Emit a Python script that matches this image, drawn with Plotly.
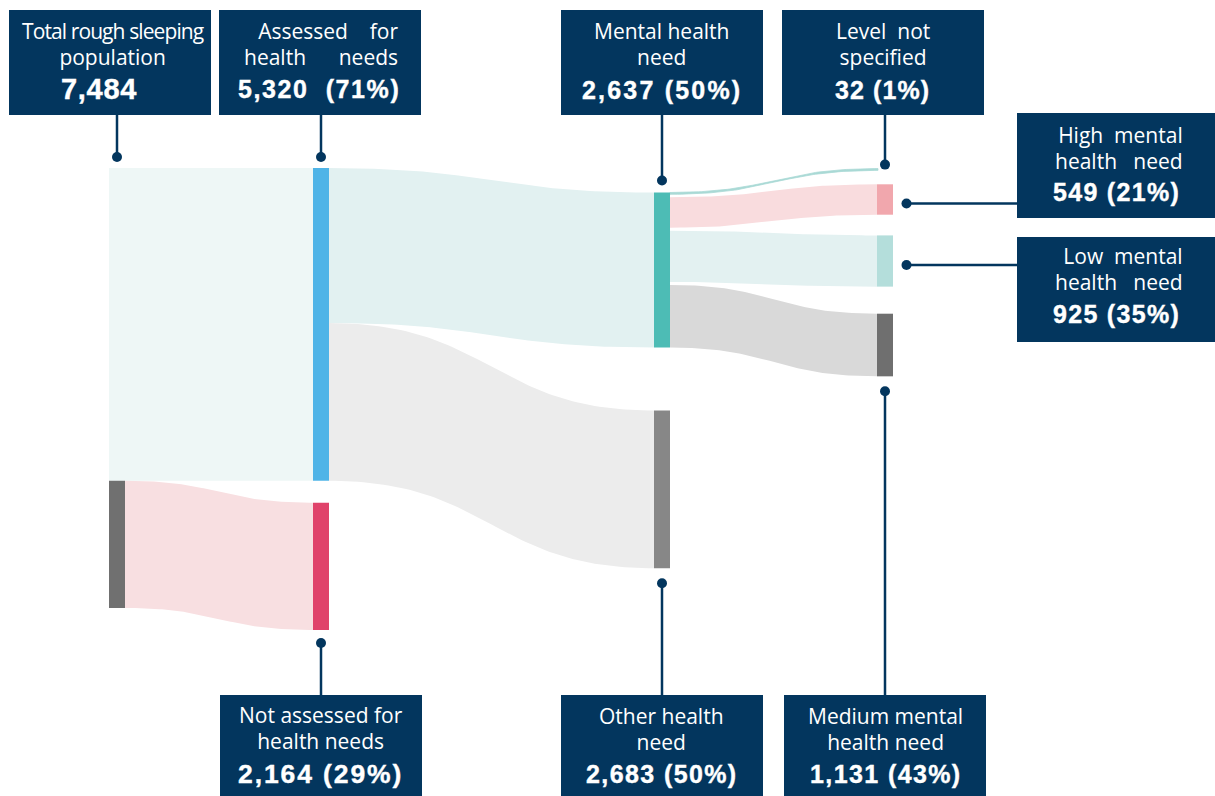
import numpy as np
import plotly.graph_objects as go

# ---------------- data ----------------
total_population = 7484
assessment_labels = ["Assessed for health needs", "Not assessed for health needs"]
assessment_counts = [5320, 2164]
need_labels = ["Mental health need", "Other health need"]
need_counts = [2637, 2683]
level_labels = ["Level not specified", "High mental health need",
                "Low mental health need", "Medium mental health need"]
level_counts = [32, 549, 925, 1131]

# ---------------- canvas and vertical scale ----------------
W, H = 1215, 796
FLOW_TOP = 168          # pixel row where the first column starts
FLOW_PX = 440           # pixel height given to the whole population
K = total_population / FLOW_PX   # people per pixel


def u(py):
    """Pixel row -> y-axis units (people counted from the top of the flow)."""
    return (py - FLOW_TOP) * K


COL_X = [109, 313, 654, 877]
NODE_W = 16

NAVY = "#03365e"
C = dict(
    total_top="#eef7f6", total_bottom="#707070",
    assessed="#4fb4e7", not_assessed="#e0426a",
    mental="#4dbcb5", other="#878787",
    high="#f1a7ad", low="#b4dedb", medium="#6f6f6f",
    l_assessed_mental="#e2f1f1", l_assessed_other="#ececec",
    l_not_assessed="#f8dfe1", l_ns="#a9d9d5", l_high="#f9dcde",
    l_low="#e3f1f1", l_medium="#d9d9d9",
)

fig = go.Figure()


def add_poly(xs, ys, color, lw=0):
    fig.add_trace(go.Scatter(
        x=xs, y=ys, mode="lines", fill="toself", fillcolor=color,
        line=dict(width=lw, color=color), hoverinfo="skip", showlegend=False))


def add_rect(x0, x1, y0, y1, color):
    add_poly([x0, x1, x1, x0, x0], [y0, y0, y1, y1, y0], color)


def add_band(x0, x1, top0, top1, thickness, color, lw=0, n=80):
    t = np.linspace(0, 1, n)
    xm = (x0 + x1) / 2
    bx = (1 - t) ** 3 * x0 + 3 * (1 - t) ** 2 * t * xm + 3 * (1 - t) * t ** 2 * xm + t ** 3 * x1
    by = (1 - t) ** 3 * top0 + 3 * (1 - t) ** 2 * t * top0 + 3 * (1 - t) * t ** 2 * top1 + t ** 3 * top1
    xs = np.concatenate([bx, bx[::-1], bx[:1]])
    ys = np.concatenate([by, (by + thickness)[::-1], by[:1]])
    add_poly(xs, ys, color, lw)


# ---------------- node placement ----------------
assessed, not_assessed = assessment_counts
mental, other = need_counts

col0 = [(0, assessed), (assessed, total_population)]
col1 = [(0, assessed), (assessed + 22 * K, assessed + 22 * K + not_assessed)]
mental_top = 24.5 * K
other_top = mental_top + mental + 63 * K
col2 = [(mental_top, mental_top + mental), (other_top, other_top + other)]

# links leaving the mental-health node are separated by a small gap
LINK_GAP = 3 * K
level_scale = (mental - LINK_GAP * (len(level_counts) - 1)) / mental
level_w = [c * level_scale for c in level_counts]
level_tops = [u(168.6), u(184.3), u(235.4), u(313.7)]
col3 = [(t, t + w) for t, w in zip(level_tops, level_w)]

# ---------------- links ----------------
# total -> assessed runs straight across, same tint as the top of the first column
add_rect(COL_X[0], COL_X[1], col0[0][0], col0[0][1], C["total_top"])
add_band(COL_X[0] + NODE_W, COL_X[1], col0[1][0], col1[1][0], not_assessed, C["l_not_assessed"])
add_band(COL_X[1] + NODE_W, COL_X[2], 0, col2[0][0], mental, C["l_assessed_mental"])
add_band(COL_X[1] + NODE_W, COL_X[2], mental, col2[1][0], other, C["l_assessed_other"])

link_cols = [C["l_ns"], C["l_high"], C["l_low"], C["l_medium"]]
s = col2[0][0]
for i, w in enumerate(level_w):
    add_band(COL_X[2] + NODE_W, COL_X[3] + (1 if i == 0 else 0), s, col3[i][0], w,
             link_cols[i], lw=0.8 if i == 0 else 0)
    s += w + LINK_GAP

# ---------------- nodes ----------------
add_rect(COL_X[0], COL_X[0] + NODE_W, *col0[1], C["total_bottom"])
add_rect(COL_X[1], COL_X[1] + NODE_W, *col1[0], C["assessed"])
add_rect(COL_X[1], COL_X[1] + NODE_W, *col1[1], C["not_assessed"])
add_rect(COL_X[2], COL_X[2] + NODE_W, *col2[0], C["mental"])
add_rect(COL_X[2], COL_X[2] + NODE_W, *col2[1], C["other"])
for (y0, y1), col in zip(col3[1:], [C["high"], C["low"], C["medium"]]):
    add_rect(COL_X[3], COL_X[3] + NODE_W, y0, y1, col)

# ---------------- callout boxes ----------------
boxes = [
    (9, 211, 10, 115), (219, 421, 10, 115), (561, 763, 10, 115), (782, 984, 10, 115),
    (1017, 1216, 113, 218), (1017, 1216, 237, 342),
    (220, 422, 695, 800), (561, 763, 695, 800), (784, 986, 695, 800),
]
for x0, x1, y0, y1 in boxes:
    fig.add_shape(type="rect", xref="x", yref="y", x0=x0, x1=x1, y0=u(y0), y1=u(y1),
                  fillcolor=NAVY, line=dict(width=0), layer="above")


def cx(col):
    return COL_X[col] + NODE_W / 2


def mid(a):
    return (a[0] + a[1]) / 2


# leader lines: (x list, y list) ending in a dot at the last point
leaders = [
    ([cx(0), cx(0)], [u(114), col0[0][0] - 11 * K]),
    ([cx(1), cx(1)], [u(114), col1[0][0] - 11 * K]),
    ([cx(2), cx(2)], [u(114), col2[0][0] - 12 * K]),
    ([cx(3), cx(3)], [u(114), col3[0][0] - 4 * K]),
    ([1017, COL_X[3] + NODE_W + 13.5], [mid(col3[1]) + 4 * K] * 2),
    ([1017, COL_X[3] + NODE_W + 13.5], [mid(col3[2]) + 4 * K] * 2),
    ([cx(3), cx(3)], [u(696), col3[3][1] + 15 * K]),
    ([cx(2), cx(2)], [u(696), col2[1][1] + 15 * K]),
    ([cx(1), cx(1)], [u(696), col1[1][1] + 13 * K]),
]
for xs, ys in leaders:
    fig.add_trace(go.Scatter(x=xs, y=ys, mode="lines", line=dict(color=NAVY, width=2.5),
                             hoverinfo="skip", showlegend=False))
    fig.add_trace(go.Scatter(x=[xs[-1]], y=[ys[-1]], mode="markers",
                             marker=dict(color=NAVY, size=10), hoverinfo="skip",
                             showlegend=False))

# ---------------- box texts ----------------
NB = "\u00a0"
LABEL_FONT, NUM_FONT = "Open Sans", "Liberation Sans"
LABEL_SIZE = 21
LINE_PITCH = 26
LABEL_ASC = 1.069            # Open Sans ascent (em)
NUM_ASC, NUM_DESC = 0.905, 0.212   # Liberation Sans ascent / descent (em)


def label(lines, x, baseline, anchor="center", first_style=""):
    """Two-line caption; line pitch is set through the base font size (1.3 em)."""
    parts = []
    for i, line in enumerate(lines):
        st = f"font-size:{LABEL_SIZE}px"
        if i == 0 and first_style:
            st += ";" + first_style
        parts.append(f'<span style="{st}">{line}</span>')
    fig.add_annotation(
        x=x, y=u(baseline - LABEL_ASC * LABEL_SIZE), xref="x", yref="y",
        text="<br>".join(parts), showarrow=False, xanchor=anchor, yanchor="top",
        align=anchor, borderpad=0, borderwidth=0,
        font=dict(family=LABEL_FONT, size=LINE_PITCH / 1.3, color="white"))


def number(value, share, x, baseline, spacing, size=25, gap=" "):
    txt = f"{value:,}" if share is None else f"{value:,}{gap}({share}%)"
    txt = f'<span style="letter-spacing:{spacing}px;stroke:white;stroke-width:0.4px">{txt}</span>'
    centre = baseline - (NUM_ASC - NUM_DESC) / 2 * size
    fig.add_annotation(x=x, y=u(centre), xref="x", yref="y", text=txt, showarrow=False,
                       xanchor="center", yanchor="middle", borderpad=0, borderwidth=0,
                       font=dict(family=NUM_FONT, size=size, color="white", weight="bold"))


def pct(part, whole):
    return round(part / whole * 100)


label(["Total rough sleeping", "population"], 113, 39.3,
      first_style="letter-spacing:-0.9px")
number(total_population, None, 99, 99, 0.7, size=29)

label(["Assessed" + NB * 4 + "for", "health" + NB * 6 + "needs"], 398, 39, anchor="right")
number(assessed, pct(assessed, total_population), 319, 98, 1.6, gap=NB + NB)

label(["Mental health", "need"], 661, 39)
number(mental, pct(mental, assessed), 662, 99, 2.2)

label(["Level" + NB * 2 + "not", "specified"], 883, 39)
number(level_counts[0], pct(level_counts[0], mental), 882.5, 98.5, 1.1)

label(["High" + NB * 2 + "mental", "health" + NB * 3 + "need"], 1183, 143, anchor="right")
number(level_counts[1], pct(level_counts[1], mental), 1116.5, 201, 1.3)

label(["Low" + NB * 2 + "mental", "health" + NB * 3 + "need"], 1183, 264.7, anchor="right")
number(level_counts[2], pct(level_counts[2], mental), 1116.5, 322.7, 1.3)

label(["Not assessed for", "health needs"], 320.5, 723.5)
number(not_assessed, pct(not_assessed, total_population), 320.5, 782.7, 1.9, size=26.5)

label(["Other health", "need"], 661, 724.5)
number(other, pct(other, assessed), 661.5, 782.7, 1.4)

label(["Medium mental", "health need"], 885, 724.5)
number(level_counts[3], pct(level_counts[3], mental), 885.5, 782.7, 1.4)

fig.update_layout(
    width=W, height=H, margin=dict(l=0, r=0, t=0, b=0),
    paper_bgcolor="white", plot_bgcolor="white", showlegend=False,
    xaxis=dict(range=[0, W], visible=False, fixedrange=True),
    yaxis=dict(range=[u(H), u(0)], visible=False, fixedrange=True),
)

fig.write_html("out.html")
